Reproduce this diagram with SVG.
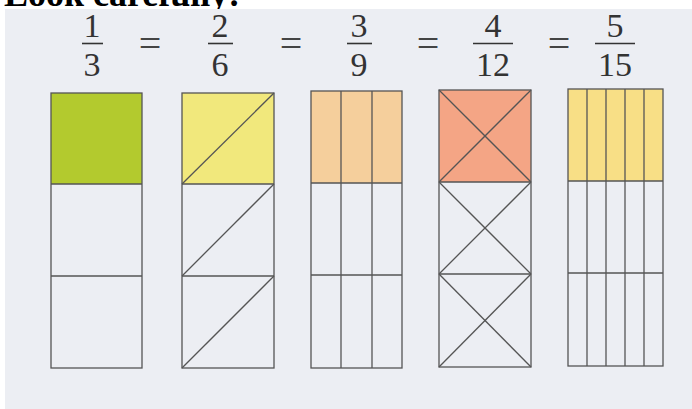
<svg xmlns="http://www.w3.org/2000/svg" width="692" height="409" viewBox="0 0 692 409">
<style>
.num{font-family:"Liberation Serif","Times New Roman",serif;font-size:34px;fill:#333;text-anchor:middle}
.eq{font-family:"Liberation Serif","Times New Roman",serif;font-size:40px;fill:#444;text-anchor:middle}
.bar{stroke:#333;stroke-width:1.6}
.ln{stroke:#555;stroke-width:1.3;fill:none}
</style>
<rect width="692" height="409" fill="#ffffff"/>
<text x="4" y="6" font-family="Liberation Serif,serif" font-weight="bold" font-size="36" fill="#000">Look carefully:</text>
<rect x="5" y="9" width="687" height="400" fill="#eceef3"/>
<g id="fractions">
  <text class="num" x="92" y="37">1</text><line class="bar" x1="82" y1="43.5" x2="103" y2="43.5"/><text class="num" x="92" y="76">3</text>
  <text class="eq" x="150" y="57">=</text>
  <text class="num" x="220" y="37">2</text><line class="bar" x1="208" y1="43.5" x2="233" y2="43.5"/><text class="num" x="220" y="76">6</text>
  <text class="eq" x="291" y="57">=</text>
  <text class="num" x="359" y="37">3</text><line class="bar" x1="347" y1="43.5" x2="372" y2="43.5"/><text class="num" x="359" y="76">9</text>
  <text class="eq" x="428" y="57">=</text>
  <text class="num" x="493" y="37">4</text><line class="bar" x1="473" y1="43.5" x2="513" y2="43.5"/><text class="num" x="493" y="76">12</text>
  <text class="eq" x="559" y="57">=</text>
  <text class="num" x="615" y="37">5</text><line class="bar" x1="595" y1="43.5" x2="635" y2="43.5"/><text class="num" x="615" y="76">15</text>
</g>
<g id="bar1">
  <rect x="51" y="93" width="91" height="91" fill="#b3ca2e"/>
  <rect class="ln" x="51" y="93" width="91" height="275"/>
  <line class="ln" x1="51" y1="184" x2="142" y2="184"/>
  <line class="ln" x1="51" y1="276" x2="142" y2="276"/>
</g>
<g id="bar2">
  <rect x="182" y="93" width="92" height="91" fill="#f1e87c"/>
  <rect class="ln" x="182" y="93" width="92" height="275"/>
  <line class="ln" x1="182" y1="184" x2="274" y2="184"/>
  <line class="ln" x1="182" y1="276" x2="274" y2="276"/>
  <line class="ln" x1="182" y1="184" x2="274" y2="93"/>
  <line class="ln" x1="182" y1="276" x2="274" y2="184"/>
  <line class="ln" x1="182" y1="368" x2="274" y2="276"/>
</g>
<g id="bar3">
  <rect x="311" y="91" width="91" height="92" fill="#f5cf9c"/>
  <rect class="ln" x="311" y="91" width="91" height="277"/>
  <line class="ln" x1="311" y1="183" x2="402" y2="183"/>
  <line class="ln" x1="311" y1="275" x2="402" y2="275"/>
  <line class="ln" x1="341" y1="91" x2="341" y2="368"/>
  <line class="ln" x1="372" y1="91" x2="372" y2="368"/>
</g>
<g id="bar4">
  <rect x="439" y="90" width="92" height="92" fill="#f4a585"/>
  <rect class="ln" x="439" y="90" width="92" height="277"/>
  <line class="ln" x1="439" y1="182" x2="531" y2="182"/>
  <line class="ln" x1="439" y1="274" x2="531" y2="274"/>
  <line class="ln" x1="439" y1="90" x2="531" y2="182"/>
  <line class="ln" x1="531" y1="90" x2="439" y2="182"/>
  <line class="ln" x1="439" y1="182" x2="531" y2="274"/>
  <line class="ln" x1="531" y1="182" x2="439" y2="274"/>
  <line class="ln" x1="439" y1="274" x2="531" y2="367"/>
  <line class="ln" x1="531" y1="274" x2="439" y2="367"/>
</g>
<g id="bar5">
  <rect x="568" y="89" width="95" height="92" fill="#f8df86"/>
  <rect class="ln" x="568" y="89" width="95" height="277"/>
  <line class="ln" x1="568" y1="181" x2="663" y2="181"/>
  <line class="ln" x1="568" y1="273" x2="663" y2="273"/>
  <line class="ln" x1="587" y1="89" x2="587" y2="366"/>
  <line class="ln" x1="606" y1="89" x2="606" y2="366"/>
  <line class="ln" x1="625" y1="89" x2="625" y2="366"/>
  <line class="ln" x1="644" y1="89" x2="644" y2="366"/>
</g>
</svg>
